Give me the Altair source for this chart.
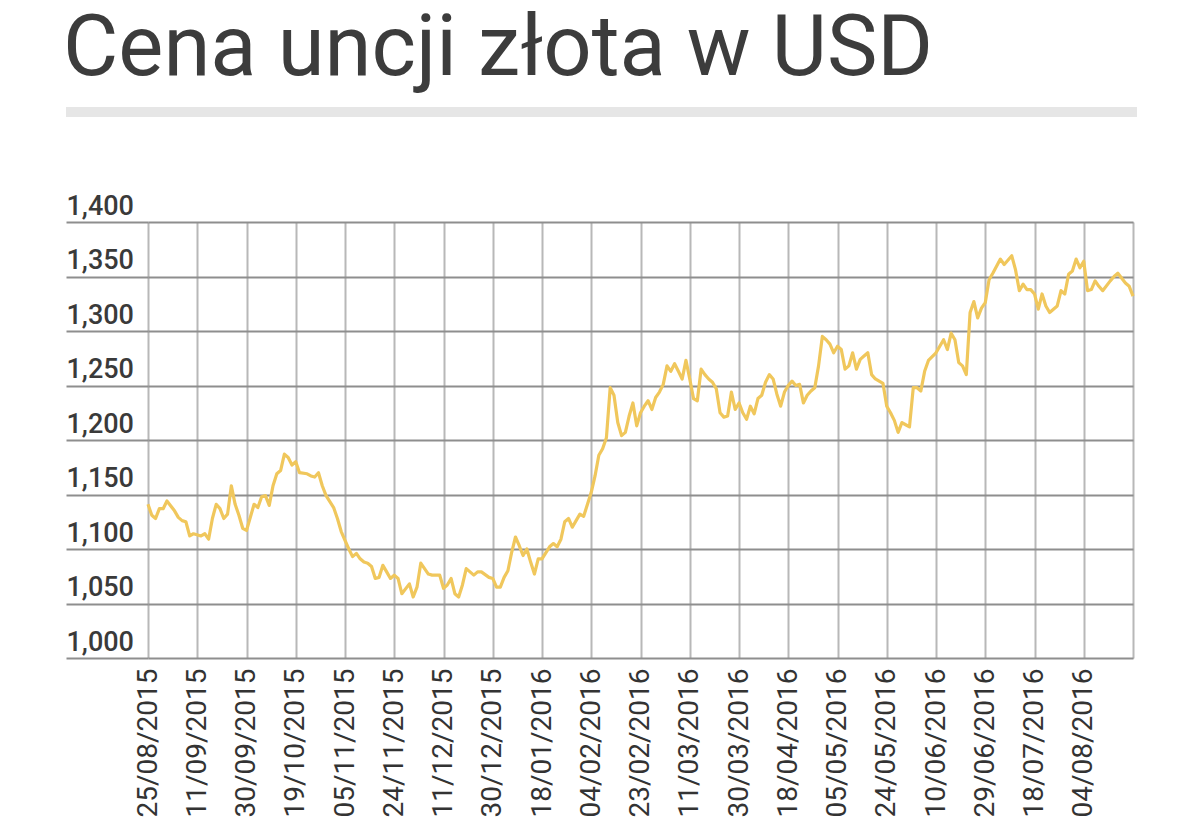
import json
import altair as alt
import pandas as pd

# trading-day index (x) and gold price in USD (y)
day_index = [
    0, 1, 2, 3, 4, 5, 7, 8, 9, 10, 11, 12, 14, 15, 16, 17, 18, 19, 20, 21,
    22, 23, 24, 25, 26, 28, 29, 30, 31, 32, 33, 34, 35, 36, 37, 38, 39, 40, 42, 43,
    44, 45, 46, 47, 49, 50, 51, 52, 53, 54, 55, 56, 57, 58, 59, 60, 61, 62, 63, 64,
    65, 66, 67, 69, 70, 71, 72, 74, 75, 77, 78, 79, 80, 81,
    82, 83, 84, 86, 87, 88, 90, 91, 92, 93, 94, 95, 96, 97, 98, 99, 100, 101, 102, 103,
    104, 106, 107, 108, 109, 110, 111, 112, 113, 114, 115, 117,
    118, 119, 120, 121, 122, 123, 124, 125, 126, 127, 128, 129, 130, 131, 132, 133, 134, 135,
    136, 137, 138, 139, 140, 141, 142, 143,
    144, 145, 146, 147, 148, 149, 150, 151, 152, 153, 154, 155, 156, 157, 158, 159, 160, 161,
    162, 163, 164, 165, 166, 167, 168, 169,
    170, 171, 172, 173, 174, 175, 176, 177, 178, 179, 180, 181, 182,
    183, 184, 185, 186, 187, 188, 189, 190, 191, 192, 194, 195,
    196, 197, 198, 199, 200, 201, 202, 203, 204, 205, 206, 208,
    209, 210, 211, 212, 213, 214, 215, 216, 217, 218, 219, 220, 221,
    222, 223, 225, 226, 228, 229, 230, 231, 232, 233, 234,
    235, 236, 237, 238, 240, 241, 242, 243, 244, 245, 246, 247,
    248, 249, 250, 251, 252, 254, 255, 256, 258, 259, 260,
]
price_usd = [
    1141, 1131, 1128, 1137, 1137, 1144, 1135, 1129, 1126, 1125, 1112, 1114, 1112, 1114, 1109, 1128, 1141, 1137, 1128, 1132,
    1158, 1141, 1131, 1119, 1117, 1141, 1138, 1148, 1149, 1140, 1158, 1169, 1172, 1187, 1184, 1177, 1180, 1170, 1169, 1167,
    1166, 1170, 1158, 1149, 1138, 1128, 1116, 1108, 1100, 1093, 1096, 1091, 1088, 1087, 1084, 1073, 1074, 1085, 1079, 1073,
    1076, 1073, 1059, 1068, 1056, 1065, 1087, 1077, 1076, 1076, 1064, 1067, 1073, 1059,
    1056, 1067, 1082, 1076, 1079, 1079, 1074, 1073, 1065, 1065, 1074, 1080, 1097, 1111, 1103, 1094, 1100, 1088, 1077, 1091,
    1091, 1102, 1105, 1102, 1109, 1125, 1128, 1120, 1126, 1132, 1130, 1152,
    1167, 1186, 1192, 1202, 1248, 1241, 1216, 1204, 1207, 1222, 1234, 1213, 1225, 1231, 1236, 1228, 1239, 1244,
    1251, 1268, 1263, 1270, 1263, 1256, 1273, 1256,
    1238, 1236, 1265, 1260, 1256, 1253, 1247, 1225, 1221, 1222, 1244, 1228, 1234, 1225, 1219, 1231, 1224, 1238,
    1241, 1253, 1260, 1256, 1242, 1231, 1244, 1250,
    1254, 1250, 1251, 1234, 1241, 1245, 1248, 1268, 1295, 1292, 1288, 1280, 1286,
    1283, 1265, 1268, 1280, 1265, 1274, 1277, 1280, 1260, 1256, 1252, 1231,
    1225, 1218, 1207, 1216, 1214, 1212, 1248, 1248, 1245, 1263, 1273, 1280,
    1286, 1292, 1283, 1298, 1292, 1271, 1268, 1260, 1317, 1327, 1312, 1321, 1326,
    1347, 1353, 1366, 1361, 1369, 1356, 1337, 1343, 1338, 1338, 1334,
    1320, 1334, 1323, 1317, 1323, 1337, 1334, 1352, 1355, 1366, 1358, 1364,
    1337, 1338, 1346, 1341, 1337, 1346, 1350, 1353, 1344, 1341, 1332,
]

x_tick_labels = [
    "25/08/2015", "11/09/2015", "30/09/2015", "19/10/2015", "05/11/2015",
    "24/11/2015", "11/12/2015", "30/12/2015", "18/01/2016", "04/02/2016",
    "23/02/2016", "11/03/2016", "30/03/2016", "18/04/2016", "05/05/2016",
    "24/05/2016", "10/06/2016", "29/06/2016", "18/07/2016", "04/08/2016",
]
x_tick_step = 13
x_last = 260
x_tick_values = list(range(0, x_last + 1, x_tick_step))
y_tick_values = [1000, 1050, 1100, 1150, 1200, 1250, 1300, 1350, 1400]

df = pd.DataFrame({"day": day_index, "price": price_usd})

GRID_H = "#8e8e8e"
GRID_V = "#b8b8b8"
LINE = "#F0C75C"

label_expr = (
    f"datum.value < {len(x_tick_labels) * x_tick_step} ? "
    f"{json.dumps(x_tick_labels)}[round(datum.value / {x_tick_step})] : ''"
)

line = alt.Chart(df).mark_line(
    color=LINE, strokeWidth=3.2, strokeJoin="round"
).encode(
    x=alt.X(
        "day:Q",
        scale=alt.Scale(domain=[0, x_last], nice=False, zero=False),
        axis=alt.Axis(
            values=x_tick_values, labelExpr=label_expr, title=None,
            grid=True, gridColor=GRID_V, gridWidth=2, gridOpacity=1,
            ticks=False, domain=False,
            labelAngle=270, labelAlign="right", labelBaseline="middle",
            labelPadding=10, labelFont="Roboto", labelFontSize=28,
            labelColor="#333333", labelOverlap=False, labelFlush=False,
        ),
    ),
    y=alt.Y(
        "price:Q",
        scale=alt.Scale(domain=[1000, 1400], nice=False, zero=False),
        axis=alt.Axis(
            values=y_tick_values, format=",d", title=None,
            grid=True, gridColor=GRID_H, gridWidth=2, gridOpacity=1,
            ticks=True, tickSize=82, tickColor=GRID_H, tickWidth=2,
            domain=False,
            labelAlign="left", labelPadding=0, labelBaseline="alphabetic",
            labelOffset=-8, labelFont="Roboto", labelFontSize=27,
            labelFontWeight=500, labelColor="#3a3a3a",
            labelOverlap=False, labelFlush=False,
        ),
    ),
)

bar = alt.Chart(pd.DataFrame({"k": [0]})).mark_rule(
    color="#e6e6e6", strokeWidth=10
).encode(
    x=alt.value(-82), x2=alt.value(989), y=alt.value(-110)
)

chart = alt.layer(bar, line).properties(
    width=985,
    height=436,
    autosize=alt.AutoSizeParams(type="none"),
    padding={"left": 140, "top": 214, "right": 59, "bottom": 180},
    title=alt.TitleParams(
        "Cena uncji złota w USD", anchor="start", font="Roboto",
        fontSize=85, fontWeight="normal", color="#3c3c3c", offset=14, dx=2,
    ),
).configure_view(stroke=None).configure(background="white")

chart.save("out.html", embed_options={"renderer": "svg", "actions": False})
